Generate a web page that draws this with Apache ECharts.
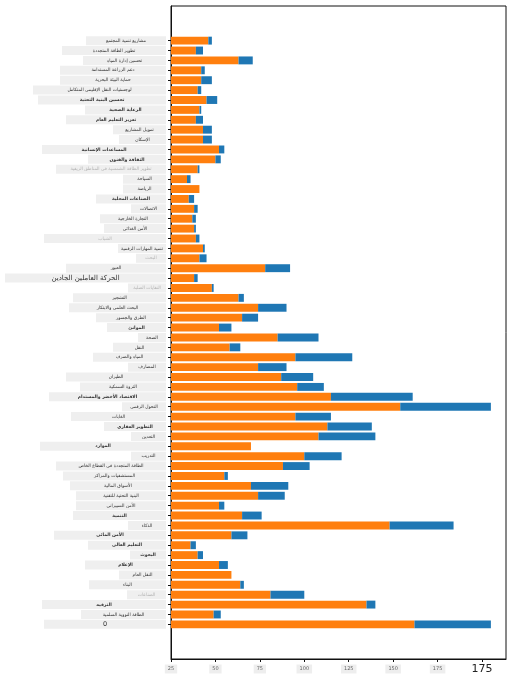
<!DOCTYPE html>
<html><head><meta charset="utf-8">
<script src="https://cdn.jsdelivr.net/npm/echarts@6/dist/echarts.min.js"></script>
<style>html,body{margin:0;padding:0;background:#fff}#c{width:512px;height:683px}</style>
</head><body><div id="c"></div>
<script>
// ---- data ----
const categories = [
  "مشاريع تنمية المجتمع","تطوير الطاقة المتجددة","تحسين إدارة المياه","دعم الزراعة المستدامة",
  "حماية البيئة البحرية","لوجستيات النقل الإقليمي المتكامل","تحسين البنية التحتية","الرعاية الصحية",
  "تعزيز التعليم العام","تمويل المشاريع","الإسكان","المساعدات الإنسانية","الثقافة والفنون",
  "تطوير الطاقة الشمسية في المناطق الريفية","السياحة","الرياضة","الصناعات المحلية","الاتصالات",
  "التجارة الخارجية","الأمن الغذائي","الشباب","تنمية المهارات الرقمية","البحث","العبور",
  "الحركة العاملين الجادين","النفايات الصلبة","التشجير","البحث العلمي والابتكار",
  "الطرق والجسور","الموانئ","الصحة","النقل","المياه والصرف","المصارف",
  "الطيران","الثروة السمكية","الاقتصاد الأخضر والمستدام","التحول الرقمي","الغابات",
  "التطوير العقاري","التعدين","الموارد","التدريب","الطاقة المتجددة في القطاع الخاص",
  "المستشفيات والمراكز","الأسواق المالية","البنية التحتية للتقنية","الأمن السيبراني","التنمية",
  "الذكاء","الأمن المائي","التعليم العالي","البحوث","الإعلام",
  "النقل العام","البناء","الصناعات","الترفيه","الطاقة النووية السلمية","0"
];
const orangeValues = [21,14,38,17,17,15,20,16,14,18,18,27,25,15,9,16,10,13,12,13,14,18,16,53,13,23,38,49,40,27,60,33,70,49,62,71,90,129,70,88,83,45,75,63,30,45,49,27,40,123,34,11,15,27,34,39,56,110,24,137];
const blueValues   = [2,4,8,2,6,2,6,1,4,5,5,3,3,1,2,0,3,2,2,1,2,1,4,14,2,1,3,16,9,7,23,6,32,16,18,15,46,51,20,25,32,0,21,15,2,21,15,3,11,36,9,3,3,5,0,2,19,5,4,43];
const xTickValues = [0,25,50,75,100,125,150,175];
const xTickLabels = ['25','50','75','100','125','150','175','175'];

// ---- label styling (decorative) ----
const labelBoxWidths = [80,104,83,106,106,133,128,81,100,53,47,124,78,110,43,43,70,35,66,62,122,48,30,100,161,38,93,97,70,59,28,53,73,38,100,86,117,44,95,62,35,126,35,110,103,96,90,90,93,38,112,78,36,81,47,77,39,124,85,122];
// n normal, b bold, l light, B bigger
const labelTones = "nnnnnnbbbnnbblnnbnnnlnlnBlnnnbnnnnnnbnnbnbnnnnnnbnbbbbnnlbnn";

const PAD = 3;
const N = categories.length;
const yData = [];
for (let i = 0; i < N + 2 * PAD; i++) yData.push('k' + i);
function padSeries(arr) {
  const out = [];
  for (let i = 0; i < PAD; i++) out.push('-');
  arr.forEach(v => out.push(v));
  for (let i = 0; i < PAD; i++) out.push('-');
  return out;
}

const rich = {};
for (let i = 0; i < N; i++) {
  const t = labelTones[i] || 'n';
  rich['r' + i] = {
    width: labelBoxWidths[i], height: 9, lineHeight: 9,
    backgroundColor: '#efefef', align: 'center',
    fontFamily: 'DejaVu Sans',
    fontSize: t === 'B' ? 7 : (i === N - 1 ? 6.5 : 4.5),
    fontWeight: t === 'b' ? 'bold' : 'normal',
    color: t === 'l' ? '#b4b4b4' : '#333'
  };
}

const chart = echarts.init(document.getElementById('c'), null, {renderer: 'canvas'});
chart.setOption({
  animation: false,
  backgroundColor: '#fff',
  grid: {left: 171, right: 6, top: 6, bottom: 24, show: true, borderColor: '#111', borderWidth: 1, containLabel: false},
  xAxis: {
    type: 'value', min: 0, max: 188.5, interval: 25,
    axisLine: {show: true, lineStyle: {color: '#111', width: 1}},
    axisTick: {show: true, length: 3, lineStyle: {color: '#111'}, customValues: xTickValues},
    splitLine: {show: false},
    axisLabel: {
      customValues: xTickValues,
      margin: 10, verticalAlign: 'middle',
      formatter: function (v) {
        const i = xTickValues.indexOf(v);
        if (i < 0) return '';
        return i === xTickLabels.length - 1 ? '{b|' + xTickLabels[i] + '}' : '{s|' + xTickLabels[i] + '}';
      },
      rich: {
        s: {fontSize: 5, color: '#666', backgroundColor: '#eeeeee', padding: [2, 3], fontFamily: 'DejaVu Sans'},
        b: {fontSize: 11, color: '#222', fontFamily: 'DejaVu Sans'}
      }
    }
  },
  yAxis: {
    type: 'category', inverse: true, data: yData,
    axisLine: {show: true, lineStyle: {color: '#111', width: 1}},
    axisTick: {show: true, alignWithLabel: true, length: 3, lineStyle: {color: '#111'},
      interval: function (idx) { return idx >= PAD && idx < PAD + N; }},
    splitLine: {show: false},
    axisLabel: {
      interval: 0, margin: 5,
      formatter: function (value, index) {
        const i = index - PAD;
        if (i < 0 || i >= N) return '';
        return '{r' + i + '|' + categories[i] + '}';
      },
      rich: rich
    }
  },
  series: [
    {type: 'bar', stack: 'total', data: padSeries(orangeValues), barWidth: '80%', itemStyle: {color: '#ff7f0e'}},
    {type: 'bar', stack: 'total', data: padSeries(blueValues), barWidth: '80%', itemStyle: {color: '#1f77b4'}}
  ]
});
</script></body></html>
